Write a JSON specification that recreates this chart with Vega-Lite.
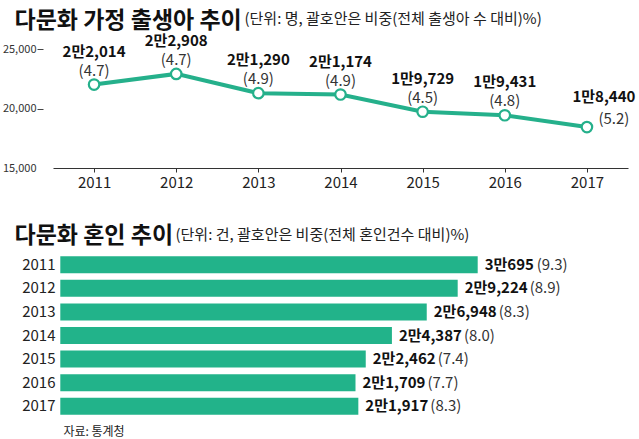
{
  "$schema": "https://vega.github.io/schema/vega-lite/v6.json",
  "padding": {"left": 2, "top": 9, "right": 4, "bottom": 2},
  "background": "white",
  "spacing": 34,
  "config": {"view": {"stroke": null}, "font": "Noto Sans CJK KR"},
  "title": {
    "text": "자료: 통계청",
    "orient": "bottom",
    "anchor": "start",
    "frame": "bounds",
    "baseline": "top",
    "dx": 61,
    "offset": 9,
    "fontSize": 12,
    "fontWeight": "normal",
    "color": "#222222"
  },
  "vconcat": [
    {
      "width": 575,
      "height": 119,
      "data": {
        "values": [
          {"year": 2011, "births": 22014, "label": "2만2,014", "share": "(4.7)"},
          {"year": 2012, "births": 22908, "label": "2만2,908", "share": "(4.7)"},
          {"year": 2013, "births": 21290, "label": "2만1,290", "share": "(4.9)"},
          {"year": 2014, "births": 21174, "label": "2만1,174", "share": "(4.9)"},
          {"year": 2015, "births": 19729, "label": "1만9,729", "share": "(4.5)"},
          {"year": 2016, "births": 19431, "label": "1만9,431", "share": "(4.8)"},
          {"year": 2017, "births": 18440, "label": "1만8,440", "share": "(5.2)"}
        ]
      },
      "encoding": {
        "x": {
          "field": "year",
          "type": "ordinal",
          "scale": {"type": "point", "padding": 0.5},
          "axis": {
            "title": "다문화 가정 출생아 추이",
            "titleAlign": "left",
            "titleAnchor": "start",
            "titleBaseline": "alphabetic",
            "titleX": -39,
            "titleY": -141,
            "titleFontSize": 23,
            "titleFontWeight": "bold",
            "titleColor": "#111111",
            "labelAngle": 0,
            "domainColor": "#333333",
            "domainWidth": 1.2,
            "tickColor": "#333333",
            "tickSize": 4,
            "labelFontSize": 15,
            "labelColor": "#222222",
            "labelPadding": 3,
            "grid": false
          }
        },
        "y": {
          "field": "births",
          "type": "quantitative",
          "scale": {"domain": [15000, 25000], "nice": false, "zero": false},
          "axis": {
            "title": "(단위: 명, 괄호안은 비중(전체 출생아 수 대비)%)",
            "titleAngle": 0,
            "titleAlign": "left",
            "titleBaseline": "alphabetic",
            "titleX": 201,
            "titleY": -26,
            "titleFontSize": 15,
            "titleFontWeight": "normal",
            "titleColor": "#222222",
            "values": [15000, 20000, 25000],
            "labelExpr": "format(datum.value, ',')",
            "domain": false,
            "grid": false,
            "offset": 10,
            "tickSize": 6,
            "tickColor": "#444444",
            "tickOpacity": {"condition": {"test": "datum.value == 15000", "value": 0}, "value": 1},
            "labelFontSize": 11,
            "labelColor": "#333333",
            "labelPadding": 1
          }
        }
      },
      "layer": [
        {"mark": {"type": "line", "color": "#25b08b", "strokeWidth": 4}},
        {"mark": {"type": "point", "filled": true, "fill": "white", "stroke": "#25b08b", "strokeWidth": 2.2, "size": 110, "opacity": 1}},
        {
          "transform": [{"filter": "datum.year != 2017"}],
          "mark": {"type": "text", "fontWeight": "bold", "fontSize": 15, "dy": -33, "baseline": "middle", "color": "#111111"},
          "encoding": {"text": {"field": "label"}}
        },
        {
          "transform": [{"filter": "datum.year != 2017"}],
          "mark": {"type": "text", "fontSize": 15, "dy": -14, "baseline": "middle", "color": "#333333"},
          "encoding": {"text": {"field": "share"}}
        },
        {
          "transform": [{"filter": "datum.year == 2017"}],
          "mark": {"type": "text", "fontWeight": "bold", "fontSize": 15, "dy": -30, "dx": 17, "baseline": "middle", "color": "#111111"},
          "encoding": {"text": {"field": "label"}}
        },
        {
          "transform": [{"filter": "datum.year == 2017"}],
          "mark": {"type": "text", "fontSize": 15, "dy": -8, "dx": 27, "baseline": "middle", "color": "#333333"},
          "encoding": {"text": {"field": "share"}}
        }
      ]
    },
    {
      "width": 560,
      "height": 165,
      "data": {
        "values": [
          {"year": 2011, "marriages": 30695, "label": "3만695", "share": "(9.3)"},
          {"year": 2012, "marriages": 29224, "label": "2만9,224", "share": "(8.9)"},
          {"year": 2013, "marriages": 26948, "label": "2만6,948", "share": "(8.3)"},
          {"year": 2014, "marriages": 24387, "label": "2만4,387", "share": "(8.0)"},
          {"year": 2015, "marriages": 22462, "label": "2만2,462", "share": "(7.4)"},
          {"year": 2016, "marriages": 21709, "label": "2만1,709", "share": "(7.7)"},
          {"year": 2017, "marriages": 21917, "label": "2만1,917", "share": "(8.3)"}
        ]
      },
      "encoding": {
        "y": {
          "field": "year",
          "type": "ordinal",
          "scale": {"paddingInner": 0.28, "paddingOuter": 0.14},
          "axis": {
            "title": "(단위: 건, 괄호안은 비중(전체 혼인건수 대비)%)",
            "titleAngle": 0,
            "titleAlign": "left",
            "titleBaseline": "alphabetic",
            "titleX": 122,
            "titleY": -14,
            "titleFontSize": 15,
            "titleFontWeight": "normal",
            "titleColor": "#222222",
            "domain": false,
            "ticks": false,
            "labelPadding": -2,
            "labelFontSize": 15,
            "labelColor": "#222222"
          }
        },
        "x": {
          "field": "marriages",
          "type": "quantitative",
          "scale": {"domain": [-537, 40645], "nice": false},
          "axis": {
            "title": "다문화 혼인 추이",
            "labels": false,
            "ticks": false,
            "domain": false,
            "grid": false,
            "titleAnchor": "start",
            "titleAlign": "left",
            "titleBaseline": "alphabetic",
            "titleX": -39,
            "titleY": -176,
            "titleFontSize": 23,
            "titleFontWeight": "bold",
            "titleColor": "#111111"
          }
        }
      },
      "layer": [
        {"mark": {"type": "bar", "color": "#22b38a"}},
        {
          "mark": {"type": "text", "fontWeight": "bold", "fontSize": 15, "dx": 7, "align": "left", "baseline": "middle", "color": "#111111"},
          "encoding": {"text": {"field": "label"}}
        },
        {
          "transform": [{"filter": "datum.year != 2011"}],
          "mark": {"type": "text", "fontSize": 15, "dx": 72, "align": "left", "baseline": "middle", "color": "#333333"},
          "encoding": {"text": {"field": "share"}}
        },
        {
          "transform": [{"filter": "datum.year == 2011"}],
          "mark": {"type": "text", "fontSize": 15, "dx": 59, "align": "left", "baseline": "middle", "color": "#333333"},
          "encoding": {"text": {"field": "share"}}
        }
      ]
    }
  ]
}
